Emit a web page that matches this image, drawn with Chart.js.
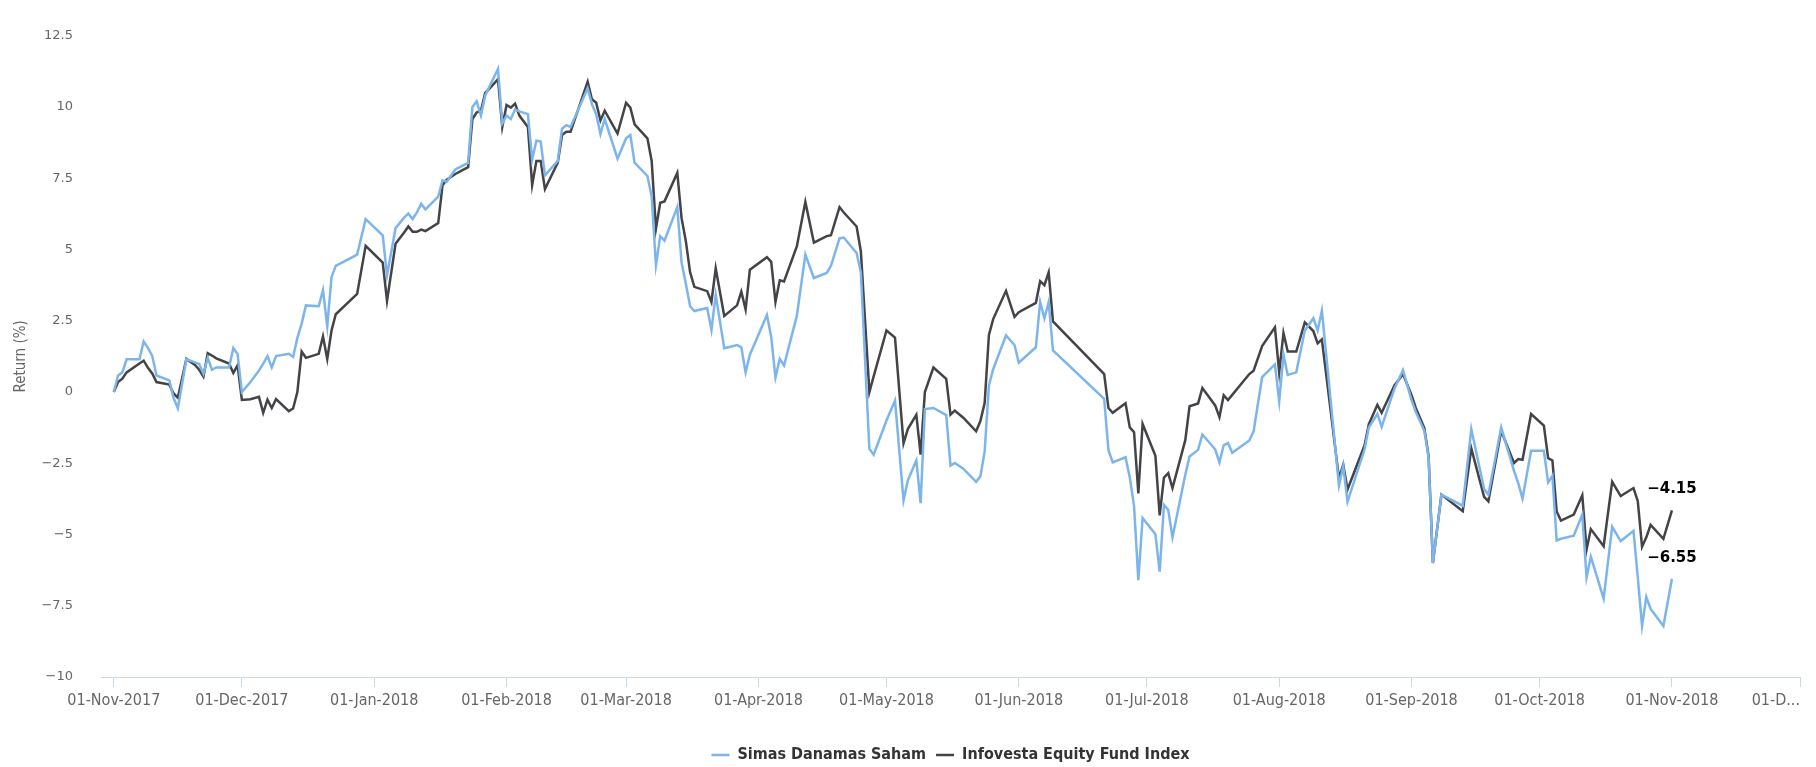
<!DOCTYPE html>
<html>
<head>
<meta charset="utf-8">
<script src="https://cdn.jsdelivr.net/npm/chart.js@4.4.1/dist/chart.umd.min.js"></script>
<style>
  html, body { margin: 0; padding: 0; background: #fff; }
  #wrap { width: 1816px; height: 767px; position: relative; }
</style>
</head>
<body>
<div id="wrap"><canvas id="myChart"></canvas></div>
<script>
const dates = [
  "2017-11-01", "2017-11-02", "2017-11-03", "2017-11-04", "2017-11-07", "2017-11-08", "2017-11-09", "2017-11-10",
  "2017-11-11", "2017-11-14", "2017-11-15", "2017-11-16", "2017-11-18", "2017-11-20", "2017-11-21", "2017-11-22",
  "2017-11-23", "2017-11-24", "2017-11-25", "2017-11-28", "2017-11-29", "2017-11-30", "2017-12-01", "2017-12-03",
  "2017-12-05", "2017-12-06", "2017-12-07", "2017-12-08", "2017-12-09", "2017-12-12", "2017-12-13", "2017-12-14",
  "2017-12-15", "2017-12-16", "2017-12-19", "2017-12-20", "2017-12-21", "2017-12-22", "2017-12-23", "2017-12-28",
  "2017-12-30", "2018-01-03", "2018-01-04", "2018-01-06", "2018-01-08", "2018-01-09", "2018-01-10", "2018-01-11",
  "2018-01-12", "2018-01-13", "2018-01-16", "2018-01-17", "2018-01-18", "2018-01-20", "2018-01-23", "2018-01-24",
  "2018-01-25", "2018-01-26", "2018-01-27", "2018-01-28", "2018-01-30", "2018-01-31", "2018-02-01", "2018-02-02",
  "2018-02-03", "2018-02-04", "2018-02-06", "2018-02-07", "2018-02-08", "2018-02-09", "2018-02-10", "2018-02-13",
  "2018-02-14", "2018-02-15", "2018-02-16", "2018-02-20", "2018-02-21", "2018-02-22", "2018-02-23", "2018-02-24",
  "2018-02-27", "2018-03-01", "2018-03-02", "2018-03-03", "2018-03-06", "2018-03-07", "2018-03-08", "2018-03-09",
  "2018-03-10", "2018-03-13", "2018-03-14", "2018-03-15", "2018-03-16", "2018-03-17", "2018-03-20", "2018-03-21",
  "2018-03-22", "2018-03-24", "2018-03-27", "2018-03-28", "2018-03-29", "2018-03-30", "2018-04-03", "2018-04-04",
  "2018-04-05", "2018-04-06", "2018-04-07", "2018-04-10", "2018-04-12", "2018-04-14", "2018-04-17", "2018-04-18",
  "2018-04-20", "2018-04-21", "2018-04-24", "2018-04-25", "2018-04-27", "2018-04-28", "2018-05-01", "2018-05-03",
  "2018-05-05", "2018-05-06", "2018-05-08", "2018-05-09", "2018-05-10", "2018-05-12", "2018-05-15", "2018-05-16",
  "2018-05-17", "2018-05-19", "2018-05-22", "2018-05-23", "2018-05-24", "2018-05-25", "2018-05-26", "2018-05-29",
  "2018-05-31", "2018-06-01", "2018-06-05", "2018-06-06", "2018-06-07", "2018-06-08", "2018-06-09", "2018-06-21",
  "2018-06-22", "2018-06-23", "2018-06-26", "2018-06-27", "2018-06-28", "2018-06-29", "2018-06-30", "2018-07-03",
  "2018-07-04", "2018-07-05", "2018-07-06", "2018-07-07", "2018-07-10", "2018-07-11", "2018-07-13", "2018-07-14",
  "2018-07-17", "2018-07-18", "2018-07-19", "2018-07-20", "2018-07-21", "2018-07-25", "2018-07-26", "2018-07-28",
  "2018-07-31", "2018-08-01", "2018-08-02", "2018-08-03", "2018-08-05", "2018-08-07", "2018-08-09", "2018-08-10",
  "2018-08-11", "2018-08-15", "2018-08-16", "2018-08-17", "2018-08-21", "2018-08-22", "2018-08-24", "2018-08-25",
  "2018-08-28", "2018-08-30", "2018-09-01", "2018-09-02", "2018-09-04", "2018-09-05", "2018-09-06", "2018-09-08",
  "2018-09-13", "2018-09-15", "2018-09-18", "2018-09-19", "2018-09-22", "2018-09-25", "2018-09-26", "2018-09-27",
  "2018-09-29", "2018-10-02", "2018-10-03", "2018-10-04", "2018-10-05", "2018-10-06", "2018-10-09", "2018-10-11",
  "2018-10-12", "2018-10-13", "2018-10-16", "2018-10-18", "2018-10-20", "2018-10-23", "2018-10-24", "2018-10-25",
  "2018-10-26", "2018-10-27", "2018-10-30", "2018-11-01"
];

// Simas Danamas Saham, return (%)
const simas = [
  0, 0.58, 0.69, 1.15, 1.15, 1.77, 1.55, 1.27,
  0.58, 0.41, -0.21, -0.57, 1.15, 1.04, 0.98, 0.64,
  1.2, 0.78, 0.86, 0.86, 1.54, 1.33, 0.0, 0.35,
  0.75, 1.0, 1.26, 0.86, 1.26, 1.34, 1.23, 1.9,
  2.4, 3.04, 3.01, 3.58, 2.3, 4.03, 4.43, 4.82,
  6.07, 5.5, 4.09, 5.75, 6.12, 6.26, 6.07, 6.3,
  6.6, 6.41, 6.86, 7.43, 7.38, 7.81, 8.04, 10.0,
  10.2, 9.7, 10.4, 10.72, 11.34, 9.42, 9.7, 9.58,
  9.92, 9.85, 9.75, 8.16, 8.82, 8.79, 7.6, 8.11,
  9.24, 9.36, 9.3, 10.66, 10.1, 9.75, 9.05, 9.58,
  8.19, 8.9, 9.02, 8.05, 7.58, 6.86, 4.45, 5.47,
  5.31, 6.49, 4.54, 3.8, 3.01, 2.84, 2.95, 2.18,
  3.41, 1.54, 1.65, 1.57, 0.69, 1.31, 2.7, 1.93,
  0.51, 1.16, 0.93, 2.67, 4.82, 4.0, 4.18, 4.43,
  5.39, 5.42, 4.88, 4.2, -2.0, -2.2, -1.0, -0.3,
  -3.8, -3.1, -2.4, -3.9, -0.6, -0.56, -0.81, -2.58,
  -2.49, -2.69, -3.15, -2.96, -2.09, 0.23, 0.8, 1.99,
  1.65, 1.03, 1.57, 3.16, 2.59, 3.16, 1.46, -0.24,
  -2.04, -2.47, -2.29, -3.0, -4.0, -6.6, -4.42, -4.99,
  -6.3, -3.96, -4.13, -5.1, -2.9, -2.26, -2.03, -1.49,
  -2.01, -2.47, -1.87, -1.79, -2.13, -1.7, -1.38, 0.52,
  0.97, -0.33, 1.31, 0.6, 0.69, 2.16, 2.59, 2.16,
  2.86, -3.28, -2.6, -3.85, -2.01, -1.24, -0.77, -1.22,
  0.12, 0.77, -0.28, -0.7, -1.36, -2.3, -6.0, -3.6,
  -3.99, -1.3, -3.4, -3.6, -1.24, -2.77, -3.2, -3.74,
  -2.06, -2.06, -3.17, -2.94, -5.21, -5.15, -5.04, -4.3,
  -6.51, -5.78, -7.25, -4.73, -5.23, -4.87, -6.5, -8.21,
  -7.19, -7.61, -8.21, -6.55
];

// Infovesta Equity Fund Index, return (%)
const infovesta = [
  0, 0.35, 0.47, 0.69, 1.0, 1.1, 0.85, 0.65,
  0.35, 0.26, -0.05, -0.2, 1.16, 0.95, 0.78, 0.54,
  1.36, 1.28, 1.18, 1.0, 0.67, 0.94, -0.28, -0.25,
  -0.17, -0.73, -0.27, -0.56, -0.25, -0.67, -0.58, 0.0,
  1.42, 1.2, 1.34, 1.95, 1.16, 2.16, 2.73, 3.44,
  5.13, 4.54, 3.2, 5.2, 5.6, 5.81, 5.62, 5.62,
  5.7, 5.65, 5.93, 7.26, 7.45, 7.65, 7.89, 9.58,
  9.81, 9.87, 10.5, 10.65, 10.98, 9.3, 10.07, 9.98,
  10.12, 9.7, 9.3, 7.26, 8.11, 8.11, 7.12, 8.05,
  9.02, 9.13, 9.13, 10.89, 10.27, 10.15, 9.53, 9.87,
  9.07, 10.15, 9.98, 9.39, 8.9, 8.11, 5.73, 6.64,
  6.69, 7.69, 6.1, 5.3, 4.2, 3.69, 3.54, 3.16,
  4.34, 2.67, 3.04, 3.52, 2.9, 4.29, 4.73, 4.57,
  3.16, 3.92, 3.88, 5.11, 6.67, 5.24, 5.47, 5.5,
  6.49, 6.3, 5.81, 4.94, 0.0, 0.55, 2.16, 1.91,
  -1.8, -1.3, -0.8, -2.2, 0.0, 0.86, 0.46, -0.79,
  -0.65, -0.9, -1.38, -1.02, -0.39, 2.0, 2.56, 3.55,
  2.64, 2.8, 3.13, 3.89, 3.75, 4.2, 2.48, 0.63,
  -0.56, -0.73, -0.39, -1.24, -1.41, -3.56, -1.12, -2.24,
  -4.33, -3.0, -2.85, -3.37, -1.69, -0.5, -0.4, 0.14,
  -0.47, -0.88, -0.11, -0.28, -0.1, 0.63, 0.75, 1.61,
  2.27, 0.69, 2.07, 1.42, 1.42, 2.44, 2.14, 1.71,
  1.84, -3.03, -2.55, -3.42, -1.87, -1.13, -0.45, -0.73,
  0.23, 0.63, -0.11, -0.56, -1.27, -2.26, -6.0, -3.6,
  -4.18, -1.98, -3.68, -3.84, -1.36, -2.49, -2.35, -2.38,
  -0.77, -1.18, -2.32, -2.4, -4.19, -4.51, -4.3, -3.62,
  -5.53, -4.81, -5.41, -3.15, -3.65, -3.37, -3.83, -5.43,
  -5.1, -4.66, -5.15, -4.15
];

// month ticks on the date axis and their labels
const monthTicks = [
  "2017-11-01", "2017-12-01", "2018-01-01", "2018-02-01", "2018-03-01", "2018-04-01", "2018-05-01",
  "2018-06-01", "2018-07-01", "2018-08-01", "2018-09-01", "2018-10-01", "2018-11-01", "2018-12-01"
];
const monthLabels = [
  "01-Nov-2017", "01-Dec-2017", "01-Jan-2018", "01-Feb-2018", "01-Mar-2018", "01-Apr-2018", "01-May-2018",
  "01-Jun-2018", "01-Jul-2018", "01-Aug-2018", "01-Sep-2018", "01-Oct-2018", "01-Nov-2018", "01-D..."
];

const DAY = 86400000;
const t = (d) => Date.parse(d + "T00:00:00Z");
const xMin = t(monthTicks[0]) - 3 * DAY;
const xMax = t(monthTicks[monthTicks.length - 1]);

const minus = (s) => String(s).replace("-", "\u2212");

// last value of each series, written above its end point
const endLabels = {
  id: "endLabels",
  afterDatasetsDraw(chart) {
    const ctx = chart.ctx;
    ctx.save();
    ctx.font = "bold 15px 'DejaVu Sans', Verdana, sans-serif";
    ctx.textAlign = "center";
    ctx.textBaseline = "middle";
    ctx.lineJoin = "round";
    chart.data.datasets.forEach((ds, i) => {
      const meta = chart.getDatasetMeta(i);
      const pt = meta.data[meta.data.length - 1];
      const text = minus(ds.data[ds.data.length - 1].y.toFixed(2));
      ctx.lineWidth = 3;
      ctx.strokeStyle = "#ffffff";
      ctx.strokeText(text, pt.x, pt.y - 21);
      ctx.fillStyle = "#000000";
      ctx.fillText(text, pt.x, pt.y - 21);
    });
    ctx.restore();
  },
};

// nudge the legend row a little lower, closer to the bottom edge
const legendDown = {
  id: "legendDown",
  afterLayout(chart) {
    if (chart.legend) {
      chart.legend.top += 6;
      chart.legend.bottom += 6;
    }
  },
};

const narrow = "'Liberation Sans Narrow', 'DejaVu Sans Condensed', 'Arial Narrow', sans-serif";

new Chart(document.getElementById("myChart"), {
  type: "line",
  data: {
    datasets: [
      {
        label: "Simas Danamas Saham",
        data: dates.map((d, i) => ({ x: t(d), y: simas[i] })),
        borderColor: "#7cb5ec",
        backgroundColor: "#7cb5ec",
        borderWidth: 2.5,
        pointRadius: 0,
        tension: 0,
      },
      {
        label: "Infovesta Equity Fund Index",
        data: dates.map((d, i) => ({ x: t(d), y: infovesta[i] })),
        borderColor: "#434348",
        backgroundColor: "#434348",
        borderWidth: 2.5,
        pointRadius: 0,
        tension: 0,
      },
    ],
  },
  options: {
    responsive: true,
    maintainAspectRatio: false,
    animation: false,
    layout: { padding: { top: 16, right: 16, bottom: 0, left: 0 } },
    plugins: {
      tooltip: { enabled: false },
      legend: {
        position: "bottom",
        fullSize: false,
        labels: {
          usePointStyle: true,
          pointStyle: "line",
          pointStyleWidth: 18,
          padding: 10,
          color: "#333333",
          font: { family: narrow, size: 16, weight: "bold" },
        },
      },
    },
    scales: {
      x: {
        type: "linear",
        min: xMin,
        max: xMax,
        afterBuildTicks: (s) => {
          s.ticks = [{ value: xMin }].concat(monthTicks.map((d) => ({ value: t(d) })));
        },
        afterFit: (s) => { s.height = 54; },
        border: { display: true, color: "#ccd6eb", width: 1 },
        grid: {
          drawOnChartArea: false,
          drawTicks: true,
          tickLength: 10,
          tickColor: (c) => (c.index === 0 ? "rgba(0,0,0,0)" : "#ccd6eb"),
        },
        ticks: {
          autoSkip: false,
          maxRotation: 0,
          align: "inner",
          padding: 4,
          color: "#666666",
          font: { family: narrow, size: 16 },
          callback: (v, i) => (i === 0 ? "" : monthLabels[i - 1]),
        },
      },
      y: {
        min: -10,
        max: 12.5,
        afterFit: (s) => { s.width = 101; },
        border: { display: false },
        grid: { display: false, drawTicks: false },
        ticks: {
          stepSize: 2.5,
          padding: 28,
          color: "#666666",
          font: { family: "'DejaVu Sans', Verdana, sans-serif", size: 13 },
          callback: (v) => minus(v),
        },
        title: {
          display: true,
          text: "Return (%)",
          color: "#666666",
          padding: { top: 12, bottom: 0 },
          font: { family: narrow, size: 15 },
        },
      },
    },
  },
  plugins: [endLabels, legendDown],
});
</script>
</body>
</html>
